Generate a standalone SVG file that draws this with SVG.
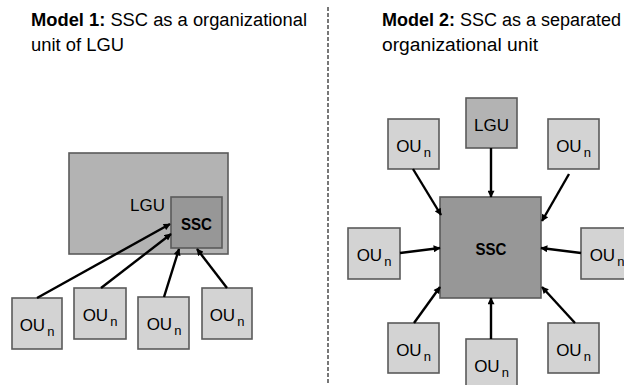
<svg xmlns="http://www.w3.org/2000/svg" width="624" height="385" viewBox="0 0 624 385">
<style>
text{font-family:"Liberation Sans",Arial,sans-serif;fill:#000}
.title{font-size:18px}
.b{font-weight:bold}
.lbl{font-size:17px}
.sub{font-size:13px}
.ou{fill:#d3d3d3;stroke:#5a5a5a;stroke-width:1.6}
.lgu{fill:#b3b3b3;stroke:#5a5a5a;stroke-width:1.6}
.ssc{fill:#979797;stroke:#5a5a5a;stroke-width:1.6}
.con line{stroke:#000;stroke-width:2.4;marker-end:url(#ah)}
</style>
<defs>
<marker id="ah" viewBox="0 0 10 10" refX="9" refY="5" markerWidth="8" markerHeight="7" markerUnits="userSpaceOnUse" orient="auto">
<path d="M0,0 L10,5 L0,10 z" fill="#000"/>
</marker>
</defs>
<rect width="624" height="385" fill="#fff"/>
<line x1="328" y1="7" x2="328" y2="385" stroke="#777" stroke-width="2" stroke-dasharray="4 2"/>

<g id="title1">
<text class="title" x="31" y="26" textLength="276" lengthAdjust="spacingAndGlyphs"><tspan class="b">Model 1:</tspan> SSC as a organizational</text>
<text class="title" x="31" y="51" textLength="93" lengthAdjust="spacingAndGlyphs">unit of LGU</text>
</g>
<g id="title2">
<text class="title" x="382" y="26" textLength="239" lengthAdjust="spacingAndGlyphs"><tspan class="b">Model 2:</tspan> SSC as a separated</text>
<text class="title" x="382" y="51" textLength="156" lengthAdjust="spacingAndGlyphs">organizational unit</text>
</g>

<!-- Model 1 -->
<g id="m1-lgu"><rect class="lgu" x="69" y="153" width="159" height="101"/><text class="lbl" x="165" y="211" text-anchor="end">LGU</text></g>
<g id="m1-ssc"><rect class="ssc" x="171" y="197" width="51" height="51"/><text class="lbl b" x="181" y="230" font-size="19" textLength="31" lengthAdjust="spacingAndGlyphs">SSC</text></g>
<g id="m1-ou1"><rect class="ou" x="12" y="298" width="50" height="51"/><text class="lbl" x="37" y="331" text-anchor="middle">OU<tspan class="sub" dx="2" dy="5">n</tspan></text></g>
<g id="m1-ou2"><rect class="ou" x="74" y="288" width="52" height="51"/><text class="lbl" x="100" y="321" text-anchor="middle">OU<tspan class="sub" dx="2" dy="5">n</tspan></text></g>
<g id="m1-ou3"><rect class="ou" x="138" y="297" width="51" height="52"/><text class="lbl" x="164" y="330" text-anchor="middle">OU<tspan class="sub" dx="2" dy="5">n</tspan></text></g>
<g id="m1-ou4"><rect class="ou" x="202" y="288" width="50" height="51"/><text class="lbl" x="227" y="321" text-anchor="middle">OU<tspan class="sub" dx="2" dy="5">n</tspan></text></g>

<!-- Model 2 -->
<g id="m2-ssc"><rect class="ssc" x="440" y="197" width="101" height="101"/><text class="lbl b" x="475.5" y="255" font-size="19" textLength="31" lengthAdjust="spacingAndGlyphs">SSC</text></g>
<g id="m2-lgu"><rect class="lgu" x="466" y="98" width="51" height="50"/><text class="lbl" x="491.5" y="131" text-anchor="middle">LGU</text></g>
<g id="m2-ou-tl"><rect class="ou" x="388" y="119" width="51" height="50"/><text class="lbl" x="413.5" y="152" text-anchor="middle">OU<tspan class="sub" dx="2" dy="5">n</tspan></text></g>
<g id="m2-ou-tr"><rect class="ou" x="548" y="119" width="51" height="50"/><text class="lbl" x="573.5" y="152" text-anchor="middle">OU<tspan class="sub" dx="2" dy="5">n</tspan></text></g>
<g id="m2-ou-l"><rect class="ou" x="348" y="228" width="52" height="51"/><text class="lbl" x="374" y="261" text-anchor="middle">OU<tspan class="sub" dx="2" dy="5">n</tspan></text></g>
<g id="m2-ou-r"><rect class="ou" x="581" y="228" width="52" height="51"/><text class="lbl" x="607" y="261" text-anchor="middle">OU<tspan class="sub" dx="2" dy="5">n</tspan></text></g>
<g id="m2-ou-bl"><rect class="ou" x="388" y="323" width="51" height="50"/><text class="lbl" x="413.5" y="356" text-anchor="middle">OU<tspan class="sub" dx="2" dy="5">n</tspan></text></g>
<g id="m2-ou-b"><rect class="ou" x="466" y="339" width="51" height="52"/><text class="lbl" x="491.5" y="372" text-anchor="middle">OU<tspan class="sub" dx="2" dy="5">n</tspan></text></g>
<g id="m2-ou-br"><rect class="ou" x="548" y="323" width="51" height="50"/><text class="lbl" x="573.5" y="356" text-anchor="middle">OU<tspan class="sub" dx="2" dy="5">n</tspan></text></g>

<g id="connectors" class="con">
<line x1="37" y1="298" x2="170" y2="224"/>
<line x1="101" y1="288" x2="171" y2="234"/>
<line x1="164" y1="297" x2="179" y2="249"/>
<line x1="227" y1="288" x2="197" y2="249"/>
<line x1="491" y1="148" x2="491" y2="197"/>
<line x1="413" y1="169" x2="441" y2="215"/>
<line x1="569" y1="174" x2="542" y2="221"/>
<line x1="400" y1="253" x2="440" y2="248"/>
<line x1="581" y1="253" x2="541" y2="248"/>
<line x1="414" y1="323" x2="440" y2="287"/>
<line x1="491" y1="339" x2="491" y2="298"/>
<line x1="575" y1="323" x2="542" y2="287"/>
</g>
</svg>
